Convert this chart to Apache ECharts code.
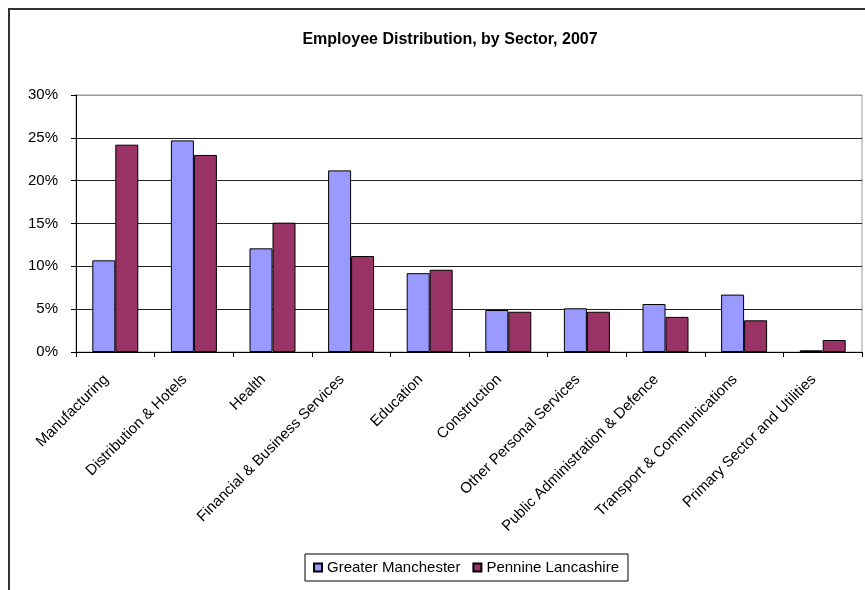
<!DOCTYPE html>
<html>
<head>
<meta charset="utf-8">
<script src="https://cdn.jsdelivr.net/npm/echarts@6/dist/echarts.min.js"></script>
<style>
  html, body { margin: 0; padding: 0; background: #fff; }
  #chart { width: 865px; height: 590px; }
</style>
</head>
<body>
<div id="chart"></div>
<script>
// Employee distribution by sector, 2007 (share of employees, %)
const sectors = [
  'Manufacturing',
  'Distribution & Hotels',
  'Health',
  'Financial & Business Services',
  'Education',
  'Construction',
  'Other Personal Services',
  'Public Administration & Defence',
  'Transport & Communications',
  'Primary Sector and Utilities'
];
const greaterManchester = [10.7, 24.7, 12.1, 21.2, 9.2, 4.9, 5.1, 5.6, 6.7, 0.2];
const pennineLancashire = [24.2, 23.0, 15.1, 11.2, 9.6, 4.7, 4.7, 4.1, 3.7, 1.4];
const yTicks = [0, 5, 10, 15, 20, 25, 30];

const FONT = '"Liberation Sans", Arial, sans-serif';

const chart = echarts.init(document.getElementById('chart'), null, { renderer: 'canvas' });

// gridlines are dark; the topmost one belongs to the grey plot frame
const splitColors = yTicks.map((t, i) => (i === yTicks.length - 1 ? '#999' : '#222'));

chart.setOption({
  backgroundColor: '#ffffff',
  animation: false,
  title: {
    text: 'Employee Distribution, by Sector, 2007',
    left: 445,
    top: 27,
    textAlign: 'center',
    textStyle: {
      fontFamily: '"Liberation Sans Narrow", "Liberation Sans", Arial, sans-serif',
      fontSize: 16,
      fontWeight: 'bold',
      color: '#000'
    }
  },
  graphic: [{
    type: 'rect',
    shape: { x: 9, y: 9, width: 1000, height: 1000 },
    style: { fill: 'none', stroke: '#333', lineWidth: 2 },
    silent: true,
    z: -1
  }],
  legend: {
    left: 305,
    top: 554,
    orient: 'horizontal',
    icon: 'rect',
    itemWidth: 8,
    itemHeight: 8,
    itemGap: 12,
    padding: [6, 9, 6, 8],
    borderColor: '#000',
    borderWidth: 1,
    textStyle: { fontFamily: FONT, fontSize: 15, color: '#000' },
    data: ['Greater Manchester', 'Pennine Lancashire']
  },
  grid: {
    left: 76,
    top: 95,
    width: 786,
    height: 257,
    show: true,
    borderColor: '#999',
    borderWidth: 1,
    containLabel: false
  },
  xAxis: {
    type: 'category',
    data: sectors,
    axisLine: { lineStyle: { color: '#000', width: 1 } },
    axisTick: { show: true, length: 5, lineStyle: { color: '#000' } },
    axisLabel: {
      interval: 0,
      rotate: 45,
      margin: 16,
      padding: [0, 13, 0, 0],
      fontFamily: FONT,
      fontSize: 15,
      color: '#000'
    }
  },
  yAxis: {
    type: 'value',
    min: yTicks[0],
    max: yTicks[yTicks.length - 1],
    interval: yTicks[1] - yTicks[0],
    axisLine: { show: true, lineStyle: { color: '#000', width: 1 } },
    axisTick: { show: true, length: 5, lineStyle: { color: '#000' } },
    axisLabel: {
      formatter: v => v + '%',
      margin: 18,
      fontFamily: FONT,
      fontSize: 15,
      color: '#000'
    },
    splitLine: { show: true, lineStyle: { color: splitColors, width: 1 } }
  },
  series: [
    {
      name: 'Greater Manchester',
      type: 'bar',
      data: greaterManchester,
      barWidth: 23,
      barGap: '0%',
      itemStyle: { color: '#9999FF', borderColor: '#000', borderWidth: 1 }
    },
    {
      name: 'Pennine Lancashire',
      type: 'bar',
      data: pennineLancashire,
      barWidth: 23,
      barGap: '0%',
      itemStyle: { color: '#993366', borderColor: '#000', borderWidth: 1 }
    }
  ]
});
</script>
</body>
</html>
